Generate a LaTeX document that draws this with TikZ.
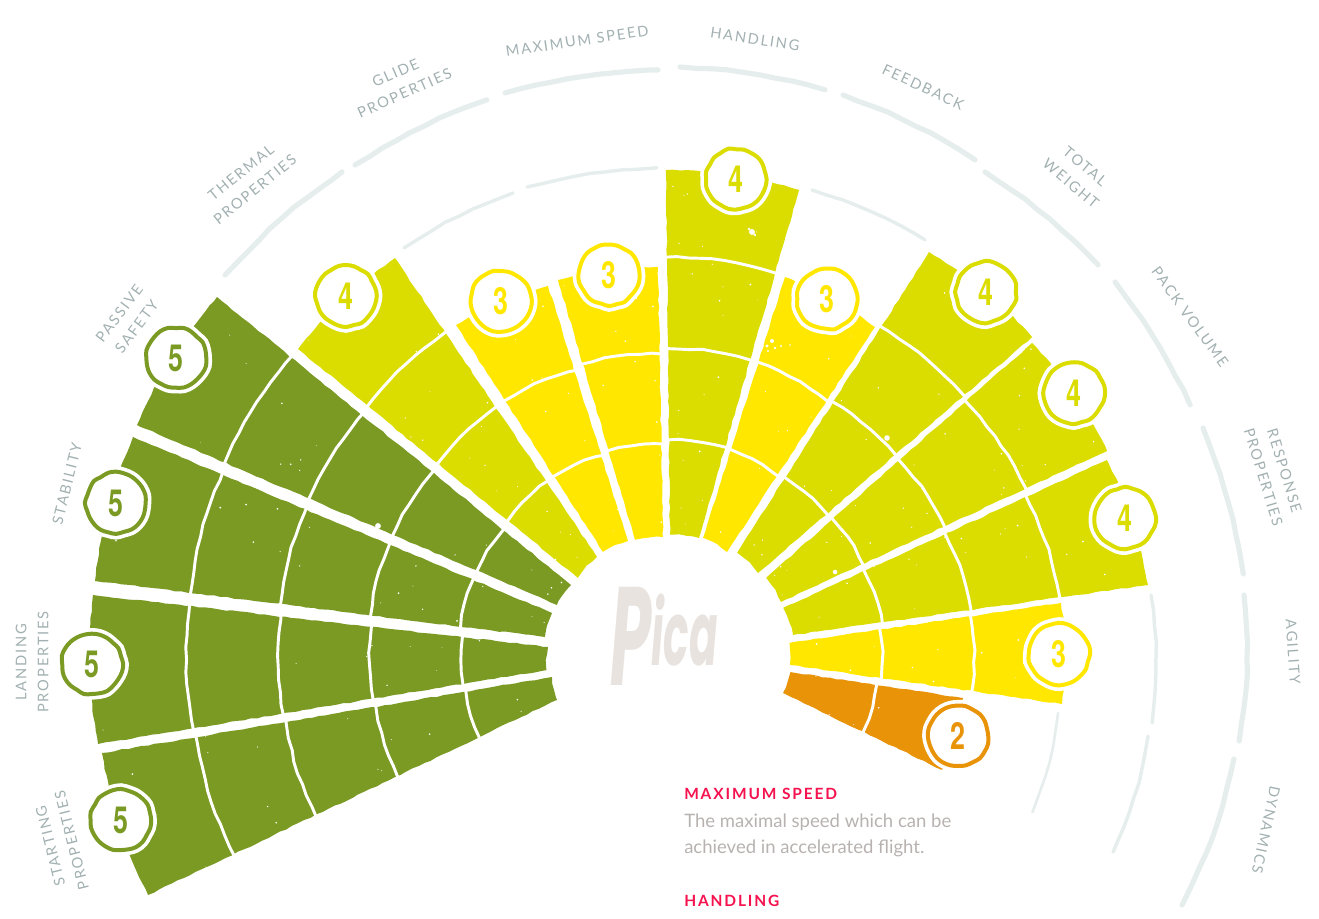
\documentclass[tikz,border=0pt]{standalone}
\usepackage{fontspec}
\usetikzlibrary{calc,decorations.pathmorphing}
\setmainfont{Lato}
\newfontfamily\labfont[LetterSpace=12.5]{Lato}
\newfontfamily\headfont[LetterSpace=12]{Lato}
\newfontfamily\digfont{TeX Gyre Heros}
\newfontfamily\picafont{Poppins}
\definecolor{cdark}{HTML}{7B9A24}
\definecolor{clime}{HTML}{DBDC00}
\definecolor{cyel}{HTML}{FFE700}
\definecolor{corg}{HTML}{E89308}
\definecolor{clab}{HTML}{A2B0B1}
\definecolor{carc}{HTML}{E6EEED}
\definecolor{cpica}{HTML}{E8E3DE}
\definecolor{chead}{HTML}{F5134F}
\definecolor{cbody}{HTML}{B7B2B0}
\tikzset{
 rough/.style={decorate,decoration={random steps,segment length=5pt,amplitude=.45pt}},
 ringline/.style={white,line width=2.2pt,decorate,decoration={random steps,segment length=9pt,amplitude=.55pt}},
 arcline/.style={carc,line width=#1,line cap=round,decorate,decoration={random steps,segment length=12pt,amplitude=.5pt}},
 digit/.style={inner sep=0pt,text=#1,font=\digfont\bfseries\fontsize{28}{28}\selectfont},
 lab/.style={text=clab,font=\labfont\fontsize{11}{16.5}\selectfont,align=center,inner sep=0pt},
 head/.style={text=chead,font=\headfont\bfseries\fontsize{11.6}{14}\selectfont,anchor=base west,inner sep=0pt},
 body/.style={text=cbody,font=\fontsize{13.9}{16}\selectfont,anchor=base west,inner sep=0pt},
}
\newcommand{\dg}[1]{\scalebox{.72}[1]{#1}}
\newcommand{\petal}[7]{%
  \fill[#1,rough] (#3) -- (#4) to[bend left=8] (#5) -- (#6) to[bend right=8] (#3) -- cycle;
  \pgfmathtruncatemacro\lastk{#2-1}%
  \foreach \k in {1,...,\lastk}{%
    \pgfmathsetmacro\tt{\k/#2+#7}%
    \coordinate (pa) at ($(#3)!\tt!(#4)$);
    \coordinate (pb) at ($(#6)!\tt!(#5)$);
    \draw[ringline] ($(pa)!-.025!(pb)$) to[bend left=8] ($(pb)!-.025!(pa)$);
  }%
}
\newcommand{\badgeat}[5]{%
  \draw[#4,line width=3pt,line join=round,fill=white,preaction={draw=white,line width=8.5pt}]
    plot[smooth cycle,tension=.6,domain=0:345,samples=24,variable=\a]
    ({#2+(30.5+.9*rand)*cos(\a)},{#3+(30.5+.9*rand)*sin(\a)});
  \node[digit=#4] (#1) at (#2,#3) {\dg{#5}};
}
\begin{document}
\begin{tikzpicture}[x=.75pt,y=-.75pt]
\useasboundingbox (0,0) rectangle (1319,919);
% petals: colour, rating, inner-a, outer-a, outer-b, inner-b, ring offset
\petal{cdark}{5}{557,700}{148,895}{102,753}{552,677}{-.01}
\petal{cdark}{5}{547,670}{98,744}{93,595}{548,647}{-.013}
\petal{cdark}{5}{545,637}{95,581}{133,437}{552,613}{-.013}
\petal{cdark}{5}{557,605}{137,425}{217,297}{571,585}{-.01}
\petal{clime}{4}{578,578}{298,349}{395,258}{597,557}{0}
\petal{cyel}{3}{603,552}{456,325}{548,286}{628,541}{0}
\petal{cyel}{3}{635,540}{558,280}{658,267}{663,537}{.01}
\petal{clime}{4}{670,535}{666,170}{799,190}{699,538}{.01}
\petal{cyel}{3}{703,538}{785,277}{875,327}{727,552}{.005}
\petal{clime}{4}{737,553}{929,252}{1032,337}{758,573}{0}
\petal{clime}{4}{766,578}{1032,343}{1107,451}{781,602}{0}
\petal{clime}{4}{783,608}{1107,460}{1148,585}{793,635}{0}
\petal{cyel}{3}{789,643}{1061,603}{1062,704}{790,665}{0}
\petal{corg}{2}{790,672}{963,698}{942,770}{783,693}{0}
% speckles
\pgfmathsetseed{11}
\foreach \i in {1,...,300}{%
  \pgfmathsetmacro\ra{125+450*rnd}%
  \pgfmathsetmacro\an{-25+230*rnd}%
  \pgfmathsetmacro\sz{.3+.45*rnd}%
  \fill[white] ({668+\ra*cos(\an)},{653-\ra*sin(\an)}) circle (\sz pt);
}
\fill[white] (752,232) circle (2.2pt) (749,229) circle (1.1pt) (755,235) circle (1.1pt)
  (378,526) circle (2.2pt) (887,438) circle (2.1pt) (835,572) circle (1.7pt)
  (772,341) circle (1.5pt) (767,346) circle (1.2pt) (775,348) circle (1pt) (768,351) circle (.9pt) (781,346) circle (.8pt) (790,345) circle (.7pt);
% outer arcs
\draw[arcline=3.9pt] (225,275) to[bend left=6] (342,172);
\draw[arcline=3.9pt] (355,165) to[bend left=6] (487,100);
\draw[arcline=3.9pt] (505,93) to[bend left=6] (658,70);
\draw[arcline=3.9pt] (680,67) to[bend left=6] (825,90);
\draw[arcline=3.9pt] (843,95) to[bend left=6] (975,160);
\draw[arcline=3.9pt] (985,172) to[bend left=6] (1098,265);
\draw[arcline=3.9pt] (1115,282) to[bend left=6] (1190,405);
\draw[arcline=3.9pt] (1203,428) to[bend left=6] (1243,574);
\draw[arcline=3.9pt] (1244,595) to[bend left=7] (1239,741);
\draw[arcline=3.9pt] (1234,759) to[bend left=7] (1182,905);
% middle arcs
\draw[arcline=2.6pt] (404,248) to[bend left=6] (513,193);
\draw[arcline=2.6pt] (527,187) to[bend left=6] (657,168);
\draw[arcline=2.6pt] (812,190) to[bend left=6] (925,240);
\draw[arcline=2.6pt] (1151,595) to[bend left=7] (1152,723);
\draw[arcline=2.6pt] (1148,736) to[bend left=7] (1113,852);
% inner arc
\draw[arcline=2pt] (1058,713) to[bend left=7] (1032,812);
% badges
\badgeat{b1}{121}{820}{cdark}{5}
\badgeat{b2}{92}{664}{cdark}{5}
\badgeat{b3}{116}{503}{cdark}{5}
\badgeat{b4}{176}{358}{cdark}{5}
\badgeat{b5}{346}{296}{clime}{4}
\badgeat{b6}{501}{301}{cyel}{3}
\badgeat{b7}{609}{275}{cyel}{3}
\badgeat{b8}{736}{179}{clime}{4}
\badgeat{b9}{827}{299}{cyel}{3}
\badgeat{b10}{986}{292}{clime}{4}
\badgeat{b11}{1074}{393}{clime}{4}
\badgeat{b12}{1125}{518}{clime}{4}
\badgeat{b13}{1059}{654}{cyel}{3}
\badgeat{b14}{958}{736}{corg}{2}
% labels
\node[lab,rotate=104] (l1) at (61,843) {STARTING\\PROPERTIES};
\node[lab,rotate=90] (l2) at (32,662) {LANDING\\PROPERTIES};
\node[lab,rotate=76] (l3) at (67,484) {STABILITY};
\node[lab,rotate=53] (l4) at (128,320) {PASSIVE\\SAFETY};
\node[lab,rotate=39] (l5) at (248,181) {THERMAL\\PROPERTIES};
\node[lab,rotate=24] (l6) at (400,83) {GLIDE\\PROPERTIES};
\node[lab,rotate=8.5] (l7) at (577,41) {MAXIMUM SPEED};
\node[lab,rotate=-8.5] (l8) at (755,39) {HANDLING};
\node[lab,rotate=-25] (l9) at (923,87) {FEEDBACK};
\node[lab,rotate=-40] (l10) at (1078,175) {TOTAL\\WEIGHT};
\node[lab,rotate=-54] (l11) at (1190,317) {PACK VOLUME};
\node[lab,rotate=-73] (l12) at (1274,474) {RESPONSE\\PROPERTIES};
\node[lab,rotate=-86] (l13) at (1293,652) {AGILITY};
\node[lab,rotate=-102] (l14) at (1266,830) {DYNAMICS};
% logo
\node[text=cpica,inner sep=0pt,anchor=base west,font=\picafont\bfseries\itshape] (logo) at (610,665)
  {\scalebox{.47}[1]{\raisebox{-15pt}{\fontsize{105}{105}\selectfont P}\fontsize{67}{67}\selectfont ica}};
% side text
\node[head] (h1) at (684,799) {MAXIMUM SPEED};
\node[body] (t1) at (684,827) {The maximal speed which can be};
\node[body] (t2) at (684,853) {achieved in accelerated flight.};
\node[head] (h2) at (684,906) {HANDLING};
\end{tikzpicture}
\end{document}
